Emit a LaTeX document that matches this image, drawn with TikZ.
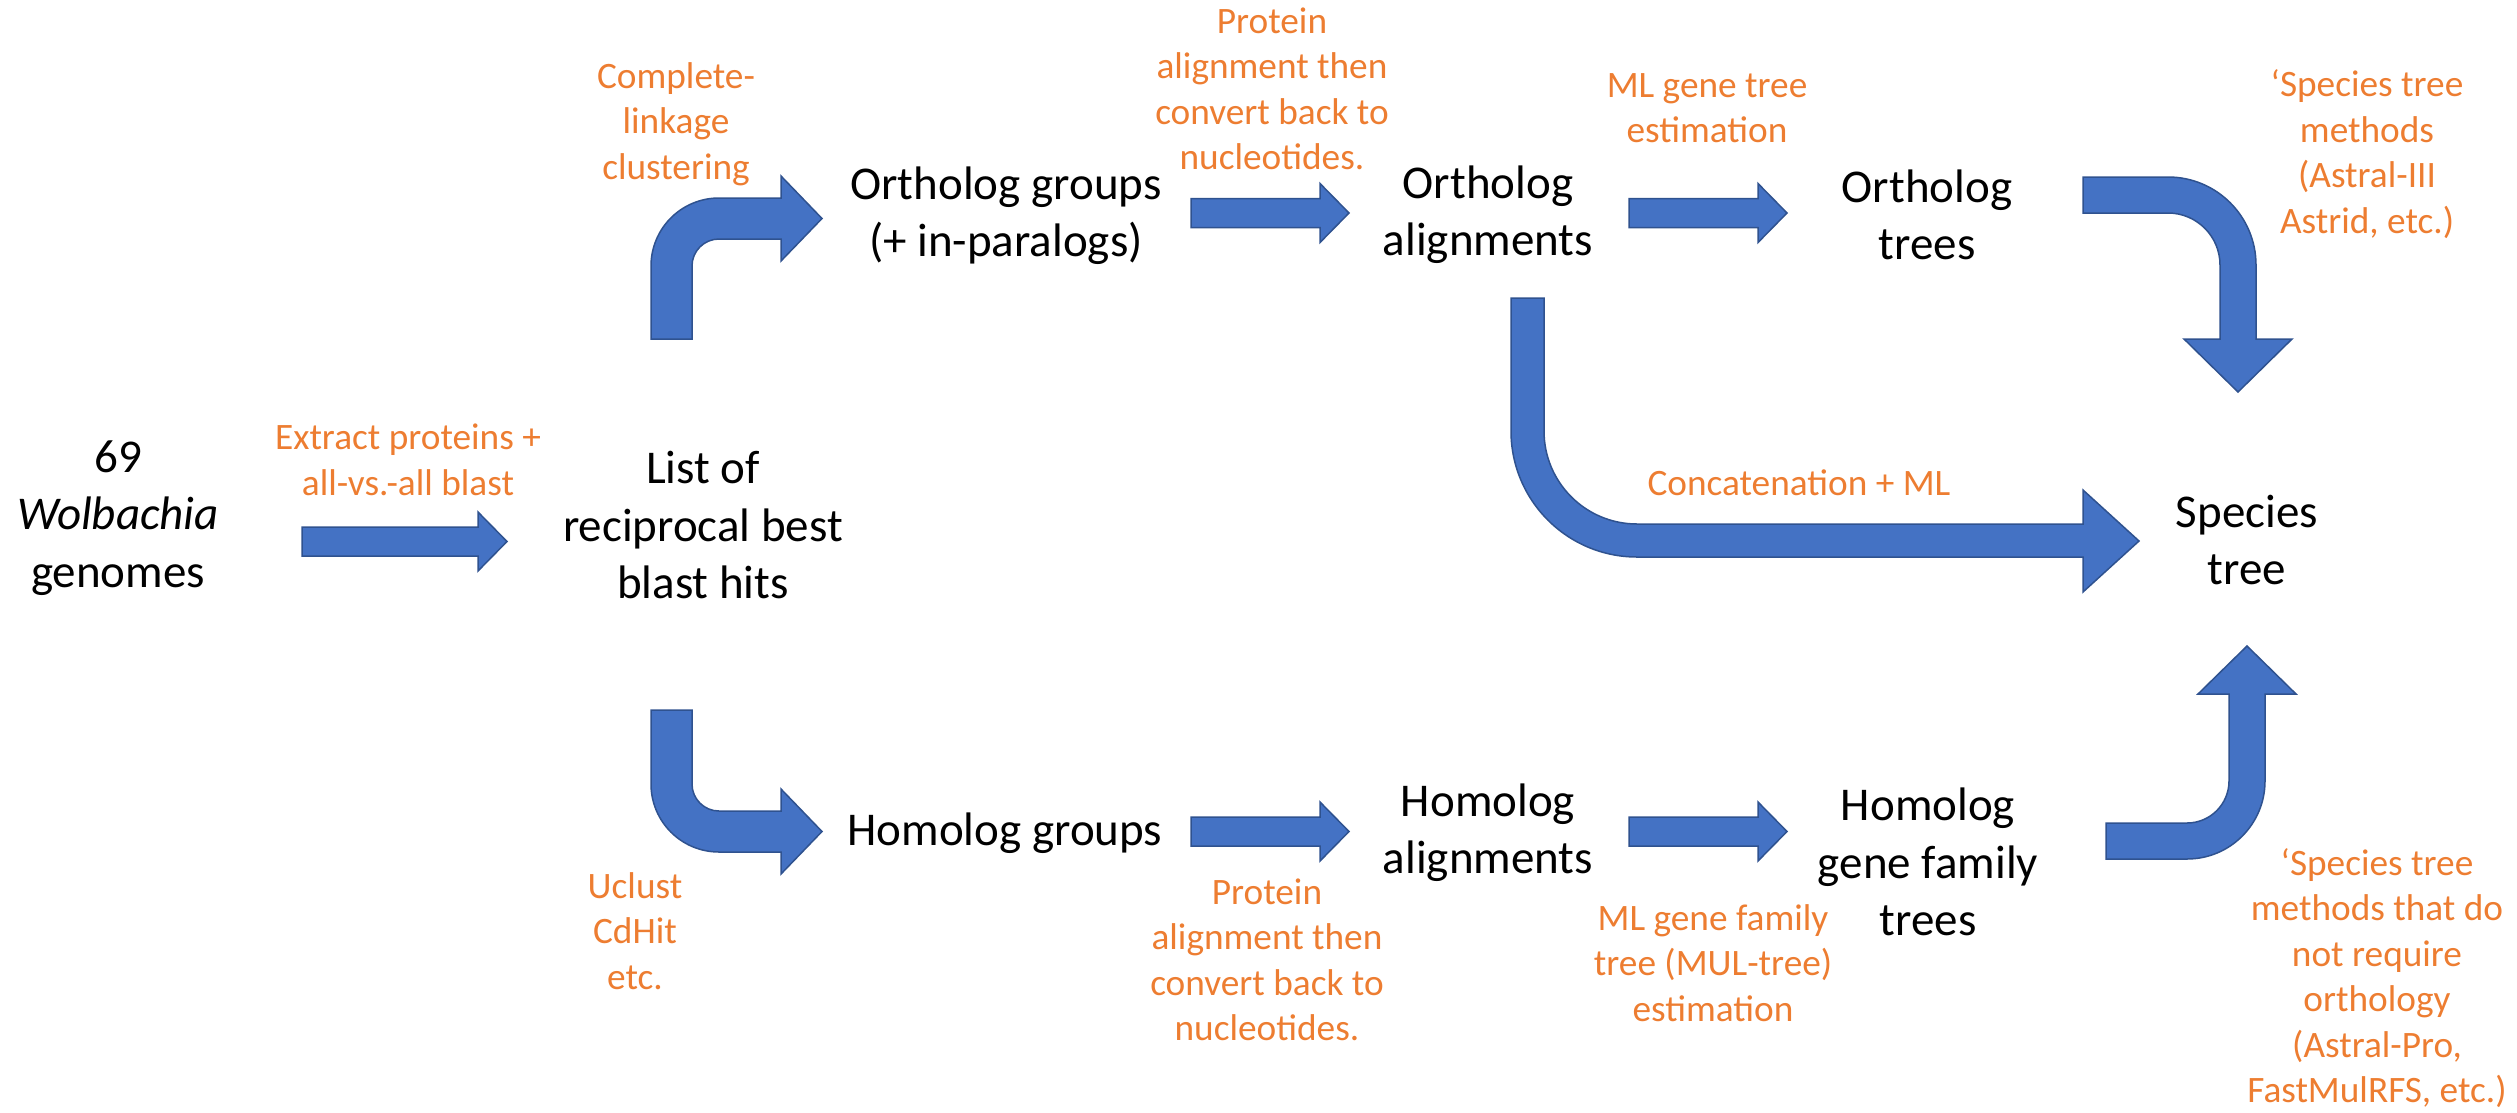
\documentclass[tikz,border=0pt]{standalone}
\usepackage{fontspec}
\setmainfont{Carlito}
\definecolor{arrowfill}{HTML}{4472C4}
\definecolor{arrowline}{HTML}{2F528F}
\definecolor{note}{HTML}{ED7D31}
\tikzset{
  stage/.style={inner sep=0pt, align=center, font=\fontsize{47}{57.3}\selectfont},
  method/.style={inner sep=0pt, align=center, text=note, font=\fontsize{37.3}{45.5}\selectfont},
  blockarrow/.style={fill=arrowfill, draw=arrowline, line width=1.5pt, line join=miter},
}
% straight block arrow: shaft start, head base, tip, centre line
\newcommand{\rightblock}[4]{%
  \filldraw[blockarrow] (#1,{#4-14.5}) -- (#2,{#4-14.5}) -- (#2,{#4-29.5})
    -- (#3,#4) -- (#2,{#4+29.5}) -- (#2,{#4+14.5}) -- (#1,{#4+14.5}) -- cycle;}
\begin{document}
\begin{tikzpicture}[x=1pt,y=-1pt]
\useasboundingbox (0,0) rectangle (2517,1112);

% ---- stages ----
\node[stage] (gen) at (118,518) {69\\\textit{Wolbachia}\\genomes};
\node[stage] (rbh) at (703,525) {List of\\reciprocal best\\blast hits};
\node[stage] (og)  at (1006,216) {Ortholog groups\\(+ in-paralogs)};
\node[stage] (oa)  at (1488,215) {Ortholog\\alignments};
\node[stage] (ot)  at (1927,215) {Ortholog\\trees};
\node[stage] (st)  at (2247,540) {Species\\tree};
\node[stage] (hg)  at (1005,833) {Homolog groups};
\node[stage] (ha)  at (1488,833) {Homolog\\alignments};
\node[stage] (ht)  at (1928,862) {Homolog\\gene family\\trees};

% ---- methods ----
\node[method] (m1) at (408,460) {Extract proteins +\\all-vs.-all blast};
\node[method] (m2) at (676,124) {Complete-\\linkage\\clustering};
\node[method] (m3) at (1272,89) {Protein\\alignment then\\convert back to\\nucleotides.};
\node[method] (m4) at (1707,108) {ML gene tree\\estimation};
\node[method] (m5) at (2367,154) {‘Species tree\\methods\\(Astral-III\\Astrid, etc.)};
\node[method] (m6) at (1799,483) {Concatenation + ML};
\node[method] (m7) at (635,931) {Uclust\\CdHit\\etc.};
\node[method] (m8) at (1267,960) {Protein\\alignment then\\convert back to\\nucleotides.};
\node[method] (m9) at (1713,963) {ML gene family\\tree (MUL-tree)\\estimation};
\node[method] (m10) at (2377,978) {‘Species tree\\methods that do\\not require\\orthology\\(Astral-Pro,\\FastMulRFS, etc.)};

% ---- straight arrows ----
\rightblock{302}{478}{507}{541.5}
\rightblock{1191}{1320}{1349}{213}
\rightblock{1629}{1758}{1787}{213}
\rightblock{1191}{1320}{1349}{831.5}
\rightblock{1629}{1758}{1787}{831.5}

% ---- bent arrows ----
% up, then right into the ortholog groups
\filldraw[blockarrow] (651,339) -- (651,266)
  .. controls (651,228.4) and (681.4,198) .. (719,198)
  -- (781,198) -- (781,176) -- (822,218.5) -- (781,261) -- (781,239) -- (719,239)
  .. controls (704.1,239) and (692,251.1) .. (692,266) -- (692,339) -- cycle;
% down, then right into the homolog groups
\filldraw[blockarrow] (651,710) -- (651,784)
  .. controls (651,821.6) and (681.4,852) .. (719,852)
  -- (781,852) -- (781,874) -- (822,831.5) -- (781,789) -- (781,811) -- (719,811)
  .. controls (704.1,811) and (692,798.9) .. (692,784) -- (692,710) -- cycle;
% concatenation route to the species tree
\filldraw[blockarrow] (1511,298) -- (1511,431)
  .. controls (1511,500.6) and (1567.4,557) .. (1637,557)
  -- (2083,557) -- (2083,592) -- (2139,541) -- (2083,490) -- (2083,524) -- (1637,524)
  .. controls (1585.6,524) and (1544,482.4) .. (1544,431) -- (1544,298) -- cycle;
% ortholog trees down to the species tree
\filldraw[blockarrow] (2083,177) -- (2168,177)
  .. controls (2216.6,177) and (2256,216.4) .. (2256,265)
  -- (2256,339) -- (2292,339) -- (2238,392) -- (2184,339) -- (2220,339) -- (2220,265)
  .. controls (2220,236.3) and (2196.7,213) .. (2168,213) -- (2083,213) -- cycle;
% homolog trees up to the species tree
\filldraw[blockarrow] (2106,859) -- (2187,859)
  .. controls (2230.1,859) and (2265,824.1) .. (2265,781)
  -- (2265,694) -- (2296,694) -- (2247,646) -- (2198,694) -- (2229,694) -- (2229,781)
  .. controls (2229,804.2) and (2210.2,823) .. (2187,823) -- (2106,823) -- cycle;
\end{tikzpicture}
\end{document}
